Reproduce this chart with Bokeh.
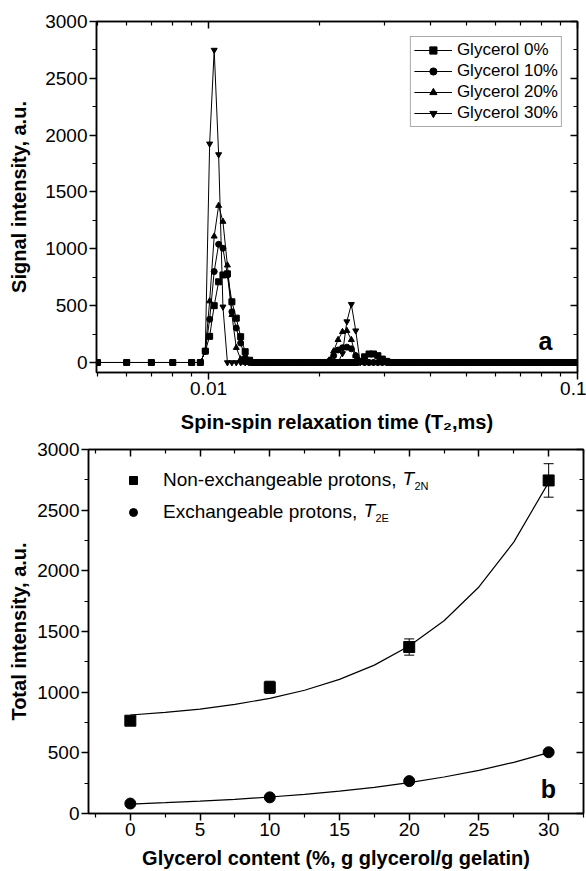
from bokeh.plotting import figure
from bokeh.models import (Range1d, LinearAxis, LogAxis, FixedTicker, Legend, LegendItem,
                          Label, Whisker, TeeHead, ColumnDataSource)
from bokeh.embed import file_html
from bokeh.resources import INLINE

FONT = "Liberation Sans"

# ---------------- Panel a : T2 distributions ----------------
t2_ms = [0.00500, 0.00600, 0.00700, 0.00800, 0.00900, 0.00950,
         0.00980, 0.01007, 0.01036, 0.01065, 0.01094, 0.01125, 0.01157, 0.01189, 0.01222, 0.01257,
         0.01292, 0.01328, 0.01365, 0.01403, 0.01443, 0.01483, 0.01524, 0.01567, 0.01611, 0.01656,
         0.01703, 0.01750, 0.01799, 0.01850, 0.01901, 0.01955, 0.02009, 0.02066, 0.02123, 0.02183,
         0.02244, 0.02307, 0.02371, 0.02438, 0.02506, 0.02576, 0.02648, 0.02723, 0.02799, 0.02877,
         0.02958, 0.03041, 0.03126, 0.03213, 0.03303, 0.03396, 0.03491, 0.03589, 0.03689, 0.03792,
         0.03899, 0.04008, 0.04120, 0.04235, 0.04354, 0.04476, 0.04601, 0.04730, 0.04862, 0.04998,
         0.05138, 0.05282, 0.05430, 0.05582, 0.05739, 0.05899, 0.06064, 0.06234, 0.06409, 0.06588,
         0.06773, 0.06962, 0.07157, 0.07358, 0.07564, 0.07775, 0.07993, 0.08217, 0.08447, 0.08684,
         0.08927, 0.09177, 0.09434, 0.09698, 0.09969]

glycerol_0 = [0, 0, 0, 0, 0, 0,
              100, 230, 500, 710, 770, 780, 534, 390, 227, 95,
              20, 0, 0, 0, 0, 0, 0, 0, 0, 0,
              0, 0, 0, 0, 0, 0, 0, 0, 0, 0,
              0, 0, 0, 0, 0, 10, 50, 75, 75, 60,
              30, 10, 0, 0, 0, 0, 0, 0, 0, 0,
              0, 0, 0, 0, 0, 0, 0, 0, 0, 0,
              0, 0, 0, 0, 0, 0, 0, 0, 0, 0,
              0, 0, 0, 0, 0, 0, 0, 0, 0, 0,
              0, 0, 0, 0, 0]
glycerol_10 = [0, 0, 0, 0, 0, 0,
               100, 380, 800, 1040, 1005, 770, 446, 303, 171, 40,
               0, 0, 0, 0, 0, 0, 0, 0, 0, 0,
               0, 0, 0, 0, 0, 0, 0, 0, 10, 60,
               110, 130, 135, 120, 60, 10, 0, 0, 0, 0,
               0, 0, 0, 0, 0, 0, 0, 0, 0, 0,
               0, 0, 0, 0, 0, 0, 0, 0, 0, 0,
               0, 0, 0, 0, 0, 0, 0, 0, 0, 0,
               0, 0, 0, 0, 0, 0, 0, 0, 0, 0,
               0, 0, 0, 0, 0]
glycerol_20 = [0, 0, 0, 0, 0, 0,
               100, 540, 1110, 1380, 1240, 856, 420, 130, 30, 0,
               0, 0, 0, 0, 0, 0, 0, 0, 0, 0,
               0, 0, 0, 0, 0, 0, 0, 0, 20, 100,
               200, 270, 280, 200, 60, 0, 0, 0, 0, 0,
               0, 0, 0, 0, 0, 0, 0, 0, 0, 0,
               0, 0, 0, 0, 0, 0, 0, 0, 0, 0,
               0, 0, 0, 0, 0, 0, 0, 0, 0, 0,
               0, 0, 0, 0, 0, 0, 0, 0, 0, 0,
               0, 0, 0, 0, 0]
glycerol_30 = [0, 0, 0, 0, 0, 0,
               100, 1924, 2749, 1830, 490, 0, 0, 0, 0, 0,
               0, 0, 0, 0, 0, 0, 0, 0, 0, 0,
               0, 0, 0, 0, 0, 0, 0, 0, 0, 0,
               0, 80, 360, 512, 280, 0, 0, 0, 0, 0,
               0, 0, 0, 0, 0, 0, 0, 0, 0, 0,
               0, 0, 0, 0, 0, 0, 0, 0, 0, 0,
               0, 0, 0, 0, 0, 0, 0, 0, 0, 0,
               0, 0, 0, 0, 0, 0, 0, 0, 0, 0,
               0, 0, 0, 0, 0]
series_labels = ["Glycerol 0%", "Glycerol 10%", "Glycerol 20%", "Glycerol 30%"]
series_markers = ["square", "circle", "triangle", "inverted_triangle"]

x_major_a = [0.01, 0.1]
x_minor_a = [0.005, 0.006, 0.007, 0.008, 0.009, 0.02, 0.03, 0.04, 0.05, 0.06, 0.07, 0.08, 0.09]
y_major = [0, 500, 1000, 1500, 2000, 2500, 3000]
y_minor = [250, 750, 1250, 1750, 2250, 2750]

# ---------------- Panel b : total intensities ----------------
glycerol_pct = [0, 10, 20, 30]
t2n_total = [765, 1040, 1372, 2745]
t2n_err = [25, 50, 67, 138]
t2e_total = [82, 133, 267, 505]
t2e_err = [10, 10, 12, 15]
fit_x = [0, 2.5, 5, 7.5, 10, 12.5, 15, 17.5, 20, 22.5, 25, 27.5, 30]
fit_t2n = [812, 833, 861, 899, 949, 1016, 1105, 1223, 1380, 1589, 1867, 2237, 2729]
fit_t2e = [78, 89, 102, 117, 136, 158, 184, 216, 255, 301, 356, 422, 502]
x_major_b = [0, 5, 10, 15, 20, 25, 30]
x_minor_b = [-2.5, 2.5, 7.5, 12.5, 17.5, 22.5, 27.5, 32.5]

TICK_FS = "19px"
TITLE_FS = "20px"


def style_axis(ax, outward=True, labels=True):
    ax.axis_line_width = 1.5
    ax.axis_line_color = "black"
    ax.major_tick_line_width = 1.5
    ax.minor_tick_line_width = 1.2
    ax.major_tick_line_color = "black"
    ax.minor_tick_line_color = "black"
    if outward:
        ax.major_tick_out, ax.major_tick_in = 7, 0
        ax.minor_tick_out, ax.minor_tick_in = 4, 0
    else:
        ax.major_tick_out, ax.major_tick_in = 0, 7
        ax.minor_tick_out, ax.minor_tick_in = 0, 4
    ax.major_label_text_font = FONT
    ax.major_label_text_color = "black"
    if labels:
        ax.major_label_text_font_size = TICK_FS
        ax.major_label_standoff = 2
    else:
        ax.major_label_text_font_size = "1px"
        ax.major_label_text_alpha = 0
        ax.major_label_standoff = 0
        ax.axis_label_standoff = 0
    ax.axis_label_text_font = FONT
    ax.axis_label_text_font_style = "bold"
    ax.axis_label_text_font_size = TITLE_FS
    ax.axis_label_text_color = "black"


# ---- figure a ----
p1 = figure(width=586, height=437, x_axis_type="log",
            x_range=Range1d(0.00497, 0.1), y_range=Range1d(-88, 3000),
            output_backend="svg", toolbar_location=None,
            min_border_left=96, min_border_right=9, min_border_top=21, min_border_bottom=65)
p1.xgrid.visible = False
p1.ygrid.visible = False
p1.outline_line_color = "black"
p1.outline_line_width = 1.5

p1.xaxis.ticker = FixedTicker(ticks=x_major_a, minor_ticks=x_minor_a)
p1.xaxis.major_label_overrides = {0.01: "0.01", 0.1: "0.1"}
p1.yaxis.ticker = FixedTicker(ticks=y_major, minor_ticks=y_minor)
p1.xaxis.axis_label = "Spin-spin relaxation time (T\u2082,ms)"
p1.yaxis.axis_label = "Signal intensity, a.u."
style_axis(p1.xaxis[0])
style_axis(p1.yaxis[0])
p1.xaxis.axis_label_standoff = 13
p1.yaxis.axis_label_standoff = 12

top_a = LogAxis(ticker=FixedTicker(ticks=x_major_a, minor_ticks=x_minor_a))
style_axis(top_a, outward=False, labels=False)
p1.add_layout(top_a, "above")
right_a = LinearAxis(ticker=FixedTicker(ticks=y_major, minor_ticks=y_minor))
style_axis(right_a, outward=False, labels=False)
p1.add_layout(right_a, "right")

items = []
for ys, lab, mk in zip([glycerol_0, glycerol_10, glycerol_20, glycerol_30], series_labels, series_markers):
    src = ColumnDataSource(dict(x=t2_ms, y=ys))
    ln = p1.line("x", "y", source=src, line_color="black", line_width=1)
    sc = p1.scatter("x", "y", source=src, marker=mk, size=6, fill_color="black", line_color="black")
    items.append(LegendItem(label=lab, renderers=[ln, sc]))

leg1 = Legend(items=items, location="top_right", margin=15, padding=3, spacing=1,
              glyph_width=38, glyph_height=18, label_height=18, label_standoff=5,
              label_text_font=FONT, label_text_font_size="17px", label_text_color="black",
              border_line_color="#555555", border_line_width=1, background_fill_color="white")
p1.add_layout(leg1)
p1.add_layout(Label(x=449, y=32, x_units="screen", y_units="screen", text="a",
                    text_font=FONT, text_font_style="bold", text_font_size="25px",
                    text_align="center", text_baseline="middle", text_color="black"))

# ---- figure b ----
p2 = figure(width=586, height=434, x_range=Range1d(-3, 32.5), y_range=Range1d(0, 3000),
            output_backend="svg", toolbar_location=None,
            min_border_left=88, min_border_right=3, min_border_top=12, min_border_bottom=56)
p2.xgrid.visible = False
p2.ygrid.visible = False
p2.outline_line_color = "black"
p2.outline_line_width = 1.5
p2.xaxis.ticker = FixedTicker(ticks=x_major_b, minor_ticks=x_minor_b)
p2.yaxis.ticker = FixedTicker(ticks=y_major, minor_ticks=y_minor)
p2.xaxis.axis_label = "Glycerol content (%, g glycerol/g gelatin)"
p2.yaxis.axis_label = "Total intensity, a.u."
style_axis(p2.xaxis[0])
style_axis(p2.yaxis[0])
p2.xaxis.axis_label_standoff = 8
p2.yaxis.axis_label_standoff = 4
top_b = LinearAxis(ticker=FixedTicker(ticks=x_major_b, minor_ticks=x_minor_b))
style_axis(top_b, outward=False, labels=False)
p2.add_layout(top_b, "above")
right_b = LinearAxis(ticker=FixedTicker(ticks=y_major, minor_ticks=y_minor))
style_axis(right_b, outward=False, labels=False)
p2.add_layout(right_b, "right")

p2.line(fit_x, fit_t2n, line_color="black", line_width=1.2)
p2.line(fit_x, fit_t2e, line_color="black", line_width=1.2)

err_src = ColumnDataSource(dict(
    x=glycerol_pct,
    up=[v + e for v, e in zip(t2n_total, t2n_err)],
    lo=[v - e for v, e in zip(t2n_total, t2n_err)],
    up2=[v + e for v, e in zip(t2e_total, t2e_err)],
    lo2=[v - e for v, e in zip(t2e_total, t2e_err)]))
for u, l in (("up", "lo"), ("up2", "lo2")):
    p2.add_layout(Whisker(source=err_src, base="x", upper=u, lower=l, dimension="height",
                          line_color="black", line_width=1,
                          upper_head=TeeHead(size=10, line_color="black", line_width=1),
                          lower_head=TeeHead(size=10, line_color="black", line_width=1)))

sq = p2.scatter(glycerol_pct, t2n_total, marker="square", size=11, fill_color="black", line_color="black")
ci = p2.scatter(glycerol_pct, t2e_total, marker="circle", size=11, fill_color="black", line_color="black")

leg2 = Legend(items=[LegendItem(label="Non-exchangeable protons, ", renderers=[sq]),
                     LegendItem(label="Exchangeable protons, ", renderers=[ci])],
              location="top_left", margin=10, padding=10, spacing=10,
              glyph_width=50, glyph_height=20, label_height=20, label_standoff=5,
              label_text_font=FONT, label_text_font_size="19px", label_text_color="black",
              border_line_alpha=0, background_fill_alpha=0)
p2.add_layout(leg2)

FH = 366  # frame height of panel b in px, for label placement
for txt_x, txt_y, sub in ((314, FH - 31, "2N"), (275, FH - 63, "2E")):
    p2.add_layout(Label(x=txt_x, y=txt_y, x_units="screen", y_units="screen", text="T",
                        text_font=FONT, text_font_style="italic", text_font_size="19px",
                        text_baseline="middle", text_color="black"))
    p2.add_layout(Label(x=txt_x + 12, y=txt_y - 7, x_units="screen", y_units="screen", text=sub,
                        text_font=FONT, text_font_size="11px",
                        text_baseline="middle", text_color="black"))
p2.add_layout(Label(x=460, y=25, x_units="screen", y_units="screen", text="b",
                    text_font=FONT, text_font_style="bold", text_font_size="25px",
                    text_align="center", text_baseline="middle", text_color="black"))

open("out.html", "w").write(file_html([p1, p2], INLINE))
